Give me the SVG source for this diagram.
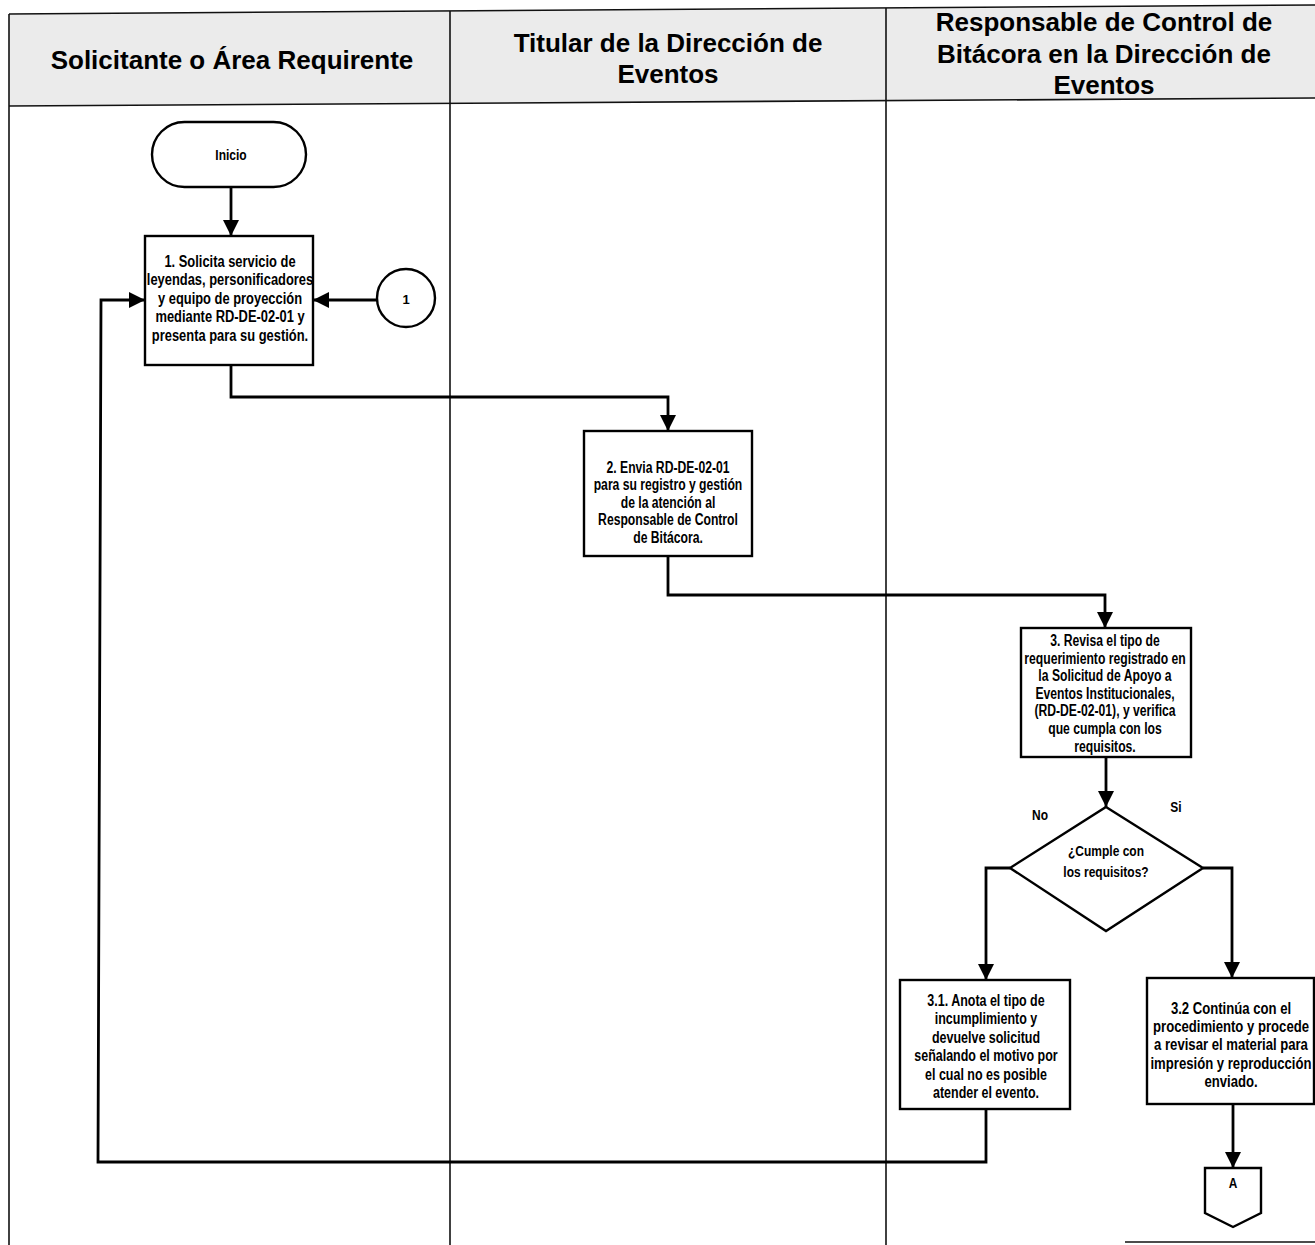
<svg xmlns="http://www.w3.org/2000/svg" width="1315" height="1245" viewBox="0 0 1315 1245">
<defs>
<marker id="ah" markerUnits="userSpaceOnUse" markerWidth="16" markerHeight="18" refX="16" refY="8" orient="auto">
<path d="M0,0 L16,8 L0,16 Z" fill="#000"/>
</marker>
<style>
.lane{fill:none;stroke:#111;stroke-width:1.6}
.hdr{fill:#ebebeb;stroke:none}
.ht{font-family:"Liberation Sans",Arial,sans-serif;font-weight:bold;font-size:26px;text-anchor:middle;fill:#000}
.box{fill:#fff;stroke:#000;stroke-width:2.4}
.nt{font-family:"Liberation Sans",Arial,sans-serif;font-weight:bold;font-size:16px;text-anchor:middle;fill:#000}
.con{fill:none;stroke:#000;stroke-width:2.8;marker-end:url(#ah)}
</style>
</defs>
<g id="lanes">
<polygon class="hdr" points="9,14 1315,5 1315,98 9,106"/>
<line class="lane" x1="9" y1="14" x2="1315" y2="5"/>
<line class="lane" x1="9" y1="106" x2="1315" y2="98"/>
<line class="lane" x1="9" y1="14" x2="9" y2="1245"/>
<line class="lane" x1="450" y1="11" x2="450" y2="1245"/>
<line class="lane" x1="886" y1="8" x2="886" y2="1245"/>
<line class="lane" x1="1125" y1="1242" x2="1315" y2="1242"/>
<text class="ht" x="232" y="69">Solicitante o Área Requirente</text>
<text class="ht" x="668" y="52">Titular de la Dirección de</text>
<text class="ht" x="668" y="83">Eventos</text>
<text class="ht" x="1104" y="31">Responsable de Control de</text>
<text class="ht" x="1104" y="63">Bitácora en la Dirección de</text>
<text class="ht" x="1104" y="94">Eventos</text>
</g>
<g id="connectors">
<path class="con" d="M231,187 L231,236"/>
<path class="con" d="M377,300 L313,300"/>
<path class="con" d="M231,365 L231,397 L668,397 L668,431"/>
<path class="con" d="M668,556 L668,595 L1105,595 L1105,628"/>
<path class="con" d="M1106,757 L1106,807"/>
<path class="con" d="M1010,868 L986,868 L986,980"/>
<path class="con" d="M1203,868 L1232,868 L1232,978"/>
<path class="con" d="M1233,1104 L1233,1168"/>
<path class="con" d="M986,1109 L986,1162 L98,1162 L101,300 L145,300"/>
</g>
<g id="inicio">
<rect class="box" x="152" y="122" width="154" height="65" rx="32.5" ry="32.5"/>
<g transform="translate(231,0) scale(0.8,1)"><text class="nt" x="0" y="160" style="font-size:15px">Inicio</text></g>
</g>
<g id="c1">
<circle class="box" cx="406" cy="298" r="29"/>
<text class="nt" x="406" y="304" style="font-size:13px">1</text>
</g>
<g id="n1">
<rect class="box" x="145" y="236" width="168" height="129"/>
<g transform="translate(230,0) scale(0.76,1)">
<text class="nt" x="0" y="267" style="font-size:17px">1. Solicita servicio de</text>
<text class="nt" x="0" y="285.5" style="font-size:17px">leyendas, personificadores</text>
<text class="nt" x="0" y="304" style="font-size:17px">y equipo de proyección</text>
<text class="nt" x="0" y="322.5" style="font-size:17px">mediante RD-DE-02-01 y</text>
<text class="nt" x="0" y="341" style="font-size:17px">presenta para su gestión.</text>
</g>
</g>
<g id="n2">
<rect class="box" x="584" y="431" width="168" height="125"/>
<g transform="translate(668,0) scale(0.76,1)">
<text class="nt" x="0" y="473">2. Envia RD-DE-02-01</text>
<text class="nt" x="0" y="490.5">para su registro y gestión</text>
<text class="nt" x="0" y="508">de la atención al</text>
<text class="nt" x="0" y="525.5">Responsable de Control</text>
<text class="nt" x="0" y="543">de Bitácora.</text>
</g>
</g>
<g id="n3">
<rect class="box" x="1021" y="628" width="170" height="129"/>
<g transform="translate(1105,0) scale(0.76,1)">
<text class="nt" x="0" y="646">3. Revisa el tipo de</text>
<text class="nt" x="0" y="663.6">requerimiento registrado en</text>
<text class="nt" x="0" y="681.2">la Solicitud de Apoyo a</text>
<text class="nt" x="0" y="698.8">Eventos Institucionales,</text>
<text class="nt" x="0" y="716.4">(RD-DE-02-01), y verifica</text>
<text class="nt" x="0" y="734">que cumpla con los</text>
<text class="nt" x="0" y="751.6">requisitos.</text>
</g>
</g>
<g id="d1">
<polygon class="box" points="1106,807 1203,868 1106,931 1010,868"/>
<g transform="translate(1106,0) scale(0.8,1)">
<text class="nt" x="0" y="856" style="font-size:15px">¿Cumple con</text>
<text class="nt" x="0" y="877" style="font-size:15px">los requisitos?</text>
</g>
<g transform="translate(1040,0) scale(0.8,1)"><text class="nt" x="0" y="820" style="font-size:15px">No</text></g>
<g transform="translate(1176,0) scale(0.8,1)"><text class="nt" x="0" y="812" style="font-size:15px">Si</text></g>
</g>
<g id="n31">
<rect class="box" x="900" y="980" width="170" height="129"/>
<g transform="translate(986,0) scale(0.78,1)">
<text class="nt" x="0" y="1005.7">3.1. Anota el tipo de</text>
<text class="nt" x="0" y="1024.2">incumplimiento y</text>
<text class="nt" x="0" y="1042.7">devuelve solicitud</text>
<text class="nt" x="0" y="1061.2">señalando el motivo por</text>
<text class="nt" x="0" y="1079.7">el cual no es posible</text>
<text class="nt" x="0" y="1098.2">atender el evento.</text>
</g>
</g>
<g id="n32">
<rect class="box" x="1147" y="978" width="167" height="126"/>
<g transform="translate(1231,0) scale(0.82,1)">
<text class="nt" x="0" y="1014">3.2 Continúa con el</text>
<text class="nt" x="0" y="1032.2">procedimiento y procede</text>
<text class="nt" x="0" y="1050.4">a revisar el material para</text>
<text class="nt" x="0" y="1068.6">impresión y reproducción</text>
<text class="nt" x="0" y="1086.8">enviado.</text>
</g>
</g>
<g id="offA">
<polygon class="box" points="1205,1168 1261,1168 1261,1213 1233,1227 1205,1213"/>
<g transform="translate(1233,0) scale(0.85,1)"><text class="nt" x="0" y="1188" style="font-size:14px">A</text></g>
</g>
</svg>
